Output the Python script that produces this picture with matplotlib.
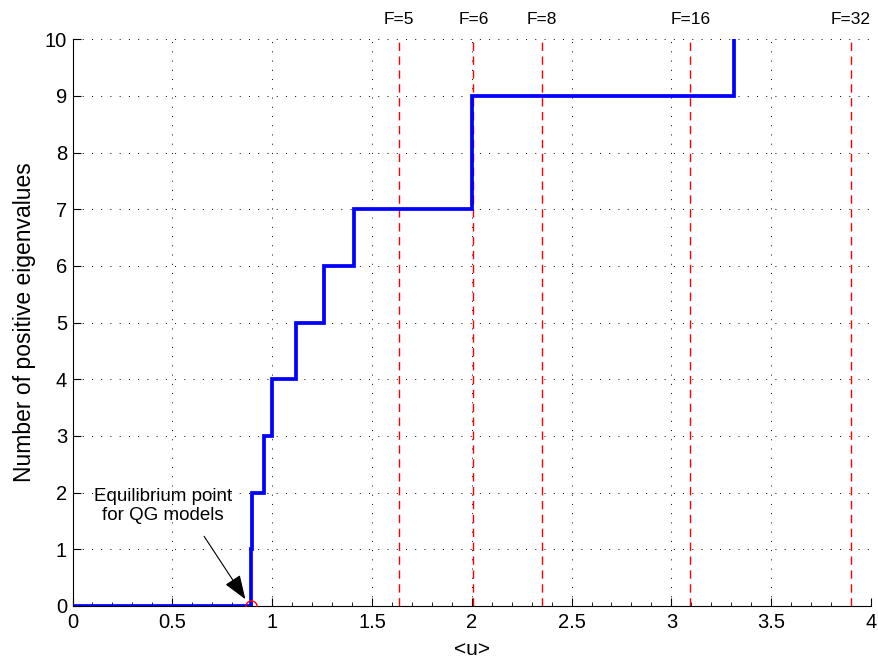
import matplotlib.pyplot as plt
from matplotlib.ticker import MultipleLocator, FormatStrFormatter

plt.rcParams['font.family'] = ['Liberation Sans', 'DejaVu Sans']

# Staircase: x where the count steps up, and the count from there on
step_x = [0, 0.892, 0.899, 0.959, 1.0, 1.118, 1.259, 1.411, 1.999, 3.314]
step_y = [0, 1, 2, 3, 4, 5, 6, 7, 9, 10]

# Forcing values marked by red dashed lines
f_labels = ['F=5', 'F=6', 'F=8', 'F=16', 'F=32']
f_pos = [1.636, 2.008, 2.353, 3.095, 3.900]

eq_point = (0.892, 0)

fig = plt.figure(figsize=(8.79, 6.66), dpi=100)
ax = fig.add_axes([0.0825, 0.0901, 0.9084, 0.851])

for xf, lab in zip(f_pos, f_labels):
    ax.plot([xf, xf], [0, 10], color='red', lw=1, dashes=(6, 4), zorder=2)
    ax.text(xf, 10.35, lab, ha='center', va='center', fontsize=12.5)

ax.plot(step_x, step_y, drawstyle='steps-post', color='#0000ff', lw=2.7,
        solid_joinstyle='miter', zorder=3)
ax.plot(*eq_point, 'o', mfc='none', mec='red', ms=8, mew=1, zorder=4)

ax.annotate('', xy=(0.866, 0.12), xytext=(0.659, 1.23),
            arrowprops=dict(arrowstyle='-|>,head_length=1.5,head_width=0.55',
                            color='black', lw=0.8, shrinkA=0, shrinkB=0))
ax.text(0.453, 1.77, 'Equilibrium point\nfor QG models', ha='center', va='center',
        fontsize=13.5, linespacing=1.15)

ax.set_xlim(0, 4)
ax.set_ylim(0, 10)
ax.xaxis.set_major_locator(MultipleLocator(0.5))
ax.xaxis.set_minor_locator(MultipleLocator(0.1))
ax.xaxis.set_major_formatter(FormatStrFormatter('%g'))
ax.yaxis.set_major_locator(MultipleLocator(1))
ax.tick_params(axis='both', which='major', direction='in', length=6, width=0.8,
               labelsize=14.5)
ax.tick_params(axis='x', which='minor', direction='in', length=3, width=0.6)
ax.tick_params(axis='x', pad=5)
ax.tick_params(axis='y', pad=4)
ax.spines['top'].set_visible(False)
ax.spines['right'].set_visible(False)
ax.grid(True, which='major', color='black', lw=0.7, linestyle=(0, (1, 8.5)))
ax.set_axisbelow(True)

ax.set_xlabel('<u>', fontsize=15, labelpad=6)
ax.set_ylabel('Number of positive eigenvalues', fontsize=16.5, labelpad=6)

fig.savefig('out.png', dpi=100)
